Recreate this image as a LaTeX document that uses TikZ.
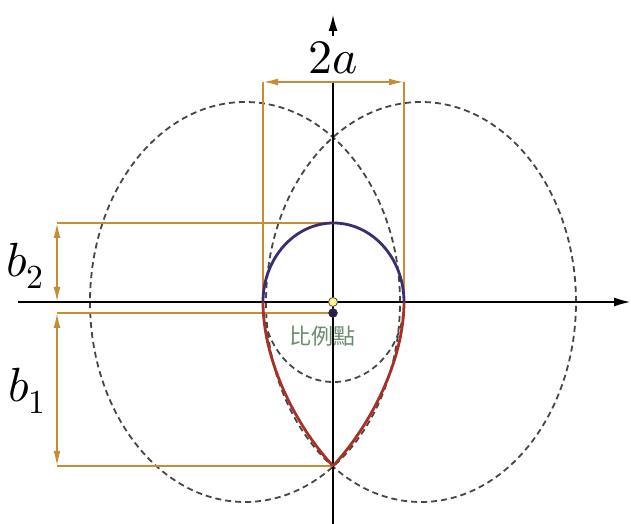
\documentclass[tikz,border=0pt]{standalone}
\usepackage{fontspec}
\usepackage{unicode-math}
\setmathfont{Latin Modern Math}
\newfontfamily\cjk{Noto Sans CJK TC}
\usetikzlibrary{arrows.meta}

\definecolor{dimcol}{RGB}{198,142,52}
\definecolor{topcol}{RGB}{62,44,112}
\definecolor{botcol}{RGB}{168,48,40}
\definecolor{guidecol}{RGB}{72,70,66}
\definecolor{labcol}{RGB}{108,138,108}

\begin{document}
\begin{tikzpicture}[
x=1pt, y=1pt,
axis/.style={line width=1.2pt, black, -{Latex[length=16pt,width=9pt]}},
dimline/.style={line width=1.8pt, dimcol},
dimarrow/.style={line width=1.8pt, dimcol, {Latex[length=15pt,width=7pt]}-{Latex[length=15pt,width=7pt]}},
guide/.style={line width=1.8pt, guidecol, dash pattern=on 6pt off 4pt},
biglabel/.style={inner sep=0pt, font=\fontsize{48}{52}\selectfont}
]
\useasboundingbox (0,0) rectangle (631,524);

% named points
\coordinate (O) at (333,222);
\coordinate (xl) at (18,222);
\coordinate (xr) at (630,222);
\coordinate (yb) at (333,0);
\coordinate (yt) at (333,509);
\coordinate (aL) at (263,442);
\coordinate (aR) at (404,442);
\coordinate (aLb) at (263,222);
\coordinate (aRb) at (404,222);
\coordinate (top) at (333,301);
\coordinate (mid) at (333,211);
\coordinate (cusp) at (333,58);
\coordinate (dTop) at (57,301);
\coordinate (dAx) at (57,222);
\coordinate (dMid) at (57,211);
\coordinate (dBot) at (57,58);

% guide ellipses
\draw[guide] (245,222) ellipse [x radius=155, y radius=200];
\draw[guide] (421,222) ellipse [x radius=155, y radius=200];
\draw[guide] (aLb) arc [start angle=180, end angle=360, x radius=70.5, y radius=80];

% axes
\draw[axis] (xl) -- (xr);
\draw[line width=1.2pt] (yb) -- (aL -| yb);
\node[biglabel, fill=white, anchor=base] (twoa) at (333,450) {$2a$};
\draw[axis] (twoa.north) ++(0,6) coordinate (ys) -- (yt);

% dimension lines
\draw[dimline] (aL) -- (aLb);
\draw[dimline] (aR) -- (aRb);
\draw[dimline] (dTop) -- (top);
\draw[dimline] (dMid) -- (mid);
\draw[dimline] (dBot) -- (cusp);
\draw[dimarrow] (aL) -- (aR);
\draw[dimarrow] (dTop) -- (dAx);
\draw[dimarrow] (dMid) -- (dBot);

\node[biglabel, anchor=base west] (btwo) at (6,247) {$b_2$};
\node[biglabel, anchor=base west] (bone) at (8,122) {$b_1$};

% egg curve
\draw[line width=2.8pt, topcol] (aLb) arc [start angle=180, end angle=0, x radius=70.5, y radius=79];
\draw[line width=2.8pt, botcol] (aLb) .. controls (263,164) and (295,99) .. (cusp);
\draw[line width=2.8pt, botcol] (aRb) .. controls (404,164) and (371,99) .. (cusp);

% points
\node[circle, draw=black!70, line width=0.8pt, fill=yellow!45!white, inner sep=0pt, minimum size=9pt] (yel) at (O) {};
\node[circle, draw=black!80, fill=topcol!70!black, inner sep=0pt, minimum size=9pt] (ratio) at (mid) {};
\node[text=labcol, font=\cjk\fontsize{22}{24}\selectfont] (ratiolab) at (322,188) {比例點};

\end{tikzpicture}
\end{document}
